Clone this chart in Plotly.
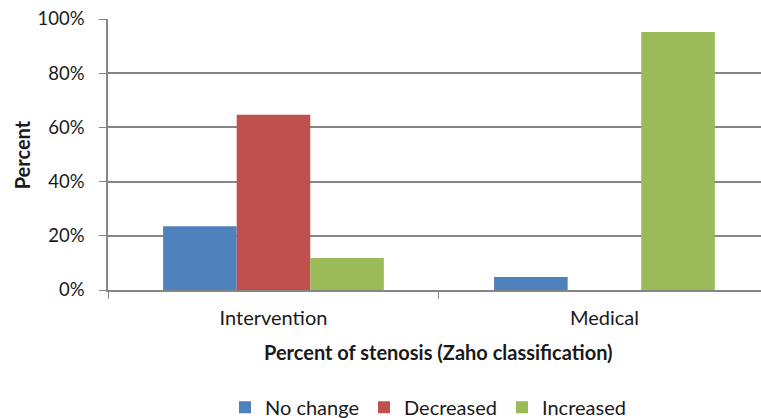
import plotly.graph_objects as go

# Change in stenosis by treatment group (share of patients)
groups = ["Intervention", "Medical"]
no_change = [0.235, 0.048]
decreased = [0.647, 0.0]
increased = [0.118, 0.952]
series_names = ["No change", "Decreased", "Increased"]
y_ticks = [0, 0.2, 0.4, 0.6, 0.8, 1.0]

colors = ["#4F81BD", "#C0504D", "#9BBB59"]
font_family = "Lato, 'Open Sans', sans-serif"

fig = go.Figure()
for name, vals, col in zip(series_names, [no_change, decreased, increased], colors):
    fig.add_trace(go.Bar(x=groups, y=vals, name=name, marker_color=col,
                         marker_line_width=0))

W, H = 761, 418
left, right, top, bottom = 108, 0, 19, 128

fig.update_layout(
    width=W, height=H,
    margin=dict(l=left, r=right, t=top, b=bottom, autoexpand=False),
    paper_bgcolor="white", plot_bgcolor="white",
    barmode="group", bargap=0.333, bargroupgap=0,
    font=dict(family=font_family, size=20, color="#1a1a1a"),
    showlegend=True,
    legend=dict(orientation="h", x=0.49, xanchor="center", xref="paper",
                y=0.026, yanchor="middle", yref="container", font=dict(size=20),
                itemwidth=30, tracegroupgap=0),
)

fig.update_xaxes(
    type="category", range=[-0.5, 1.473], automargin=False,
    showline=True, linecolor="#868686", linewidth=1.5,
    ticks="outside", tickson="boundaries", ticklen=7, tickcolor="#868686",
    showgrid=False, tickfont=dict(size=20), ticklabelstandoff=9,
)
fig.update_yaxes(
    range=[0, 1], tickvals=y_ticks, tickformat=".0%", automargin=False,
    showline=True, linecolor="#868686", linewidth=1.5,
    ticks="outside", ticklen=7, tickcolor="#868686",
    showgrid=True, gridcolor="#868686", gridwidth=1.5,
    zeroline=False, tickfont=dict(size=18.5), ticklabelstandoff=11,
)

fig.add_annotation(text="<b>Percent</b>", textangle=-90, xref="paper", yref="paper",
                   x=-0.132, y=0.5, showarrow=False, font=dict(size=20),
                   xanchor="center", yanchor="middle")
fig.add_annotation(text="<b>Percent of stenosis (Zaho classification)</b>",
                   xref="x", yref="paper", x=0.5, y=-0.228, showarrow=False,
                   font=dict(size=20), xanchor="center", yanchor="middle")

fig.write_html("out.html")
